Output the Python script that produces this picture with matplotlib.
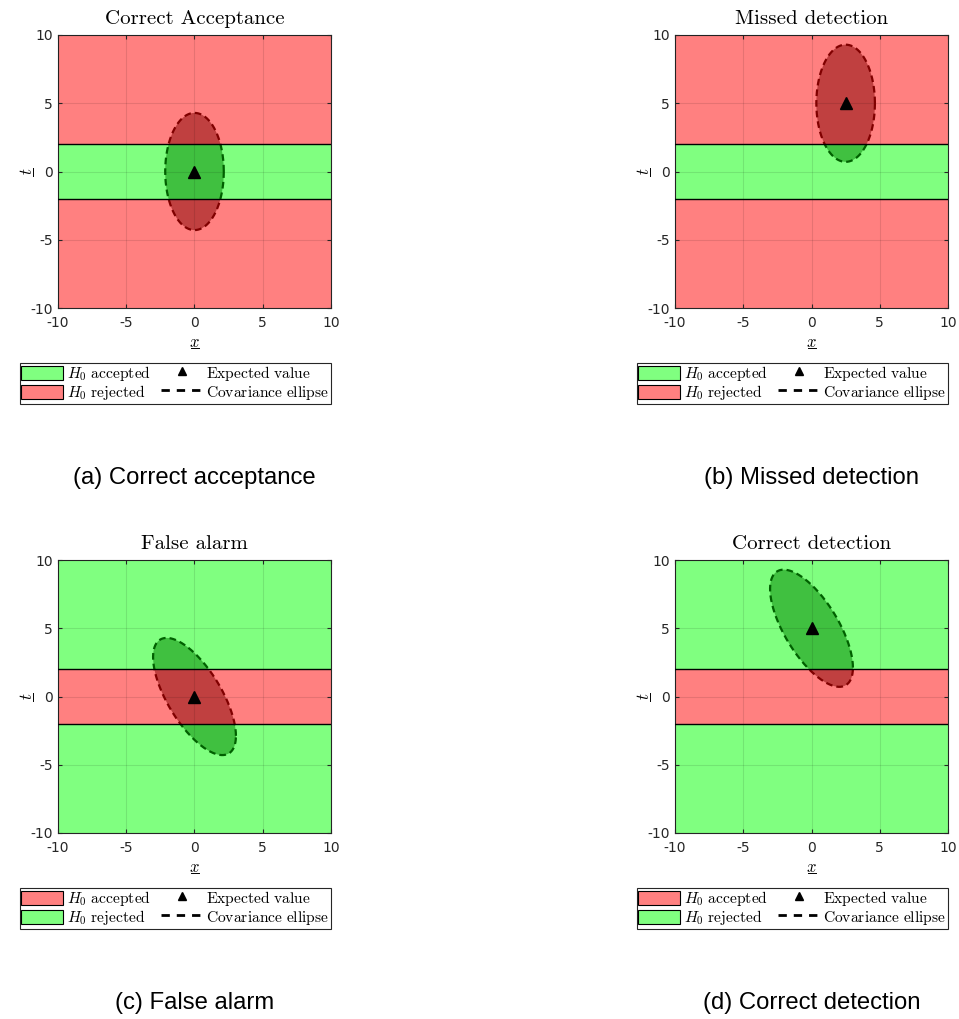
import numpy as np
import matplotlib.pyplot as plt
from matplotlib.patches import Rectangle, Patch
from matplotlib.lines import Line2D
from matplotlib.legend_handler import HandlerPatch

plt.rcParams['mathtext.fontset'] = 'cm'
plt.rcParams['axes.unicode_minus'] = False

# scenario data
captions = ['(a) Correct acceptance', '(b) Missed detection',
            '(c) False alarm', '(d) Correct detection']
titles = ['Correct Acceptance', 'Missed detection', 'False alarm', 'Correct detection']
centers = [(0.0, 0.0), (2.5, 5.0), (0.0, 0.0), (0.0, 5.0)]
covs = [[[1.0, 0.0], [0.0, 4.0]],
        [[1.0, 0.0], [0.0, 4.0]],
        [[2.0, -1.9], [-1.9, 4.0]],
        [[2.0, -1.9], [-1.9, 4.0]]]
inner_accepted = [True, True, False, False]   # inner band is H0 accepted region
threshold = 2.0
chi2_val = 4.605                               # 90% for 2 dof
lims = (-10, 10)
ticks = [-10, -5, 0, 5, 10]
legend_labels = [r'$H_0\ \mathrm{accepted}$', r'$H_0\ \mathrm{rejected}$',
                 r'$\mathrm{Expected\ value}$', r'$\mathrm{Covariance\ ellipse}$']

GREEN = '#80ff80'
RED = '#ff8080'
GREEN_IN = '#40c040'
RED_IN = '#c04040'
GREEN_EDGE = '#006000'
RED_EDGE = '#800000'

fig = plt.figure(figsize=(9.59, 10.19), dpi=100)
W, H = 959, 1019
ax_pos = [(58, 35), (675, 35), (58, 560), (675, 560)]
size = 273


def fx(px):
    return px / W


def fy(py):
    return 1 - py / H


def small_box(legend, orig_handle, xdescent, ydescent, width, height, fontsize):
    # slightly shorter than the row so the rows stay evenly spaced
    pad = 0.1 * height
    return Rectangle((-xdescent, -ydescent + pad), width, height - 2 * pad)


theta = np.linspace(0, 2 * np.pi, 400)

for i in range(4):
    x0, y0 = ax_pos[i]
    ax = fig.add_axes([fx(x0), fy(y0 + size), size / W, size / H])
    inner_c = GREEN if inner_accepted[i] else RED
    outer_c = RED if inner_accepted[i] else GREEN
    inner_in = GREEN_IN if inner_accepted[i] else RED_IN
    outer_in = RED_IN if inner_accepted[i] else GREEN_IN
    inner_e = GREEN_EDGE if inner_accepted[i] else RED_EDGE
    outer_e = RED_EDGE if inner_accepted[i] else GREEN_EDGE

    bands = [(-threshold, threshold, inner_c, inner_in, inner_e),
             (threshold, lims[1], outer_c, outer_in, outer_e),
             (lims[0], -threshold, outer_c, outer_in, outer_e)]

    # ellipse outline from covariance
    L = np.linalg.cholesky(np.array(covs[i]))
    pts = (L @ np.vstack([np.cos(theta), np.sin(theta)])) * np.sqrt(chi2_val)
    ex = pts[0] + centers[i][0]
    ey = pts[1] + centers[i][1]

    for lo, hi, c, cin, ce in bands:
        ax.add_patch(Rectangle((lims[0], lo), lims[1] - lims[0], hi - lo,
                               facecolor=c, edgecolor='none', zorder=1))
        clip = Rectangle((lims[0], lo), lims[1] - lims[0], hi - lo,
                         transform=ax.transData)
        poly = ax.fill(ex, ey, facecolor=cin, edgecolor='none', zorder=2)[0]
        poly.set_clip_path(clip)
        ln = ax.plot(ex, ey, color=ce, lw=1.6, ls=(0, (3, 1.8)), zorder=3)[0]
        ln.set_clip_path(clip)

    ax.axhline(threshold, color='black', lw=1.0, zorder=4)
    ax.axhline(-threshold, color='black', lw=1.0, zorder=4)
    ax.plot(centers[i][0], centers[i][1], '^', color='black', ms=8, zorder=5)

    ax.set_xlim(lims)
    ax.set_ylim(lims)
    ax.set_xticks(ticks)
    ax.set_yticks(ticks)
    ax.grid(True, color='#000000', alpha=0.1, lw=0.8, zorder=2.5)
    ax.set_axisbelow(False)
    ax.tick_params(direction='in', length=3, labelsize=10, colors='#262626',
                   top=True, right=True)
    ax.tick_params(axis='x', pad=6)
    for s in ax.spines.values():
        s.set_color('#262626')
        s.set_linewidth(0.8)
    ax.set_title(titles[i], fontsize=15, family='cmr10', pad=8)

    # underlined axis labels
    cx = x0 + size / 2
    cy = y0 + size / 2
    fig.text(fx(cx), fy(y0 + size + 34), r'$x$', ha='center', va='center', fontsize=12)
    fig.add_artist(Line2D([fx(cx - 4), fx(cx + 4)], [fy(y0 + size + 40)] * 2,
                          color='black', lw=0.7))
    fig.text(fx(x0 - 31), fy(cy), r'$t$', ha='center', va='center',
             fontsize=12, rotation=90)
    fig.add_artist(Line2D([fx(x0 - 25)] * 2, [fy(cy - 4), fy(cy + 4)],
                          color='black', lw=0.7))

    acc_c = GREEN if inner_accepted[i] else RED
    rej_c = RED if inner_accepted[i] else GREEN
    handles = [Patch(facecolor=acc_c, edgecolor='black', lw=0.8),
               Patch(facecolor=rej_c, edgecolor='black', lw=0.8),
               Line2D([], [], ls='none', marker='^', color='black', ms=6),
               Line2D([], [], ls=(0, (3, 2.5)), color='black', lw=2)]
    leg = ax.legend(handles, legend_labels, ncol=2, loc='upper right',
                    bbox_to_anchor=(1.0, -0.2), borderaxespad=0,
                    prop={'size': 11.2},
                    fancybox=False, edgecolor='#262626', framealpha=1,
                    handlelength=2.7, handleheight=1.3, handletextpad=0.25,
                    columnspacing=0.6, borderpad=0.1, labelspacing=0.0,
                    handler_map={Patch: HandlerPatch(patch_func=small_box)})
    leg.get_frame().set_linewidth(0.8)

    fig.text(fx(cx), fy(y0 + 443), captions[i],
             ha='center', va='center', fontsize=17.2, family='Liberation Sans')

fig.savefig('out.png', dpi=100)
